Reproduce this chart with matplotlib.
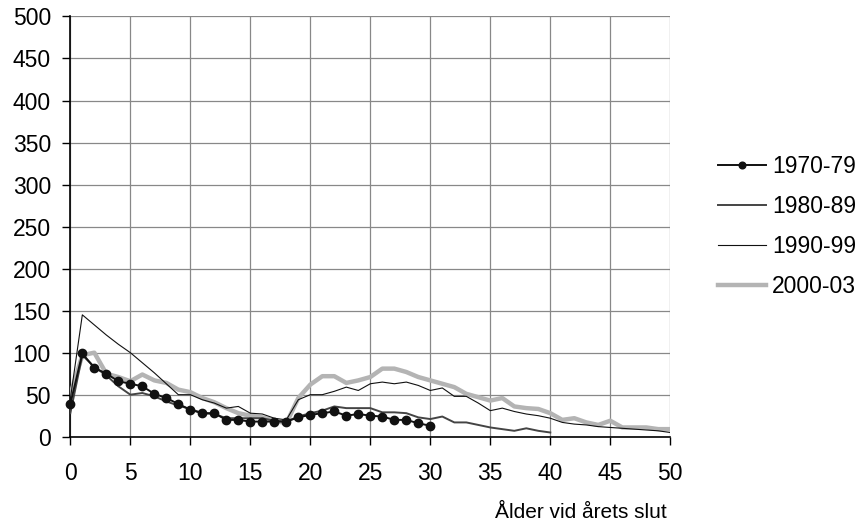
import numpy as np
import matplotlib
matplotlib.use('Agg')
import matplotlib.pyplot as plt

plt.rcParams['font.family'] = ['Liberation Sans', 'DejaVu Sans']

# values
s1970 = [39, 99, 82, 75, 66, 63, 60, 51, 46, 39, 32, 28, 28, 20, 20, 18, 18, 18, 18, 23,
         26, 28, 30, 25, 27, 25, 24, 20, 20, 16, 13]
s1980 = [28, 97, 83, 73, 60, 50, 52, 48, 42, 37, 33, 28, 27, 22, 22, 22, 22, 19, 18, 24,
         28, 31, 36, 34, 34, 34, 29, 29, 28, 23, 21, 24, 17, 17, 14, 11, 9, 7, 10, 7, 5]
s1990 = [45, 145, 133, 121, 110, 100, 88, 76, 63, 50, 50, 44, 40, 34, 36, 28, 27, 22, 20, 44,
         50, 50, 54, 59, 55, 63, 65, 63, 65, 61, 55, 58, 48, 48, 40, 31, 34, 30, 27, 25,
         22, 17, 15, 14, 12, 11, 10, 9, 8, 7, 5]
s2000 = [50, 97, 100, 75, 71, 66, 74, 67, 64, 56, 53, 46, 41, 34, 28, 25, 23, 19, 16, 46,
         62, 72, 72, 64, 67, 71, 81, 81, 77, 71, 67, 63, 59, 51, 47, 43, 46, 36, 34, 33,
         28, 20, 22, 17, 14, 19, 11, 11, 11, 9, 9]
labels = ['1970-79', '1980-89', '1990-99', '2000-03']
xlabel = 'Ålder vid årets slut'

fig = plt.figure(figsize=(8.64, 5.23), dpi=100)
ax = fig.add_axes([0.0814, 0.165, 0.7758 - 0.0814, 0.9685 - 0.165])

l4, = ax.plot(np.arange(len(s2000)), s2000, color='#b4b4b4', lw=3.2, zorder=3)
l3, = ax.plot(np.arange(len(s1990)), s1990, color='#111111', lw=0.8, zorder=4)
l2, = ax.plot(np.arange(len(s1980)), s1980, color='#444444', lw=1.4, zorder=5)
l1, = ax.plot(np.arange(len(s1970)), s1970, color='#111111', lw=1.4, marker='o',
              markersize=6, zorder=6, clip_on=False)

ax.set_xlim(0, 50)
ax.set_ylim(0, 500)
ax.set_xticks(np.arange(0, 51, 5))
ax.set_yticks(np.arange(0, 501, 50))
ax.grid(True, color='#888888', lw=0.9)
ax.set_axisbelow(True)
for s in ['top', 'right']:
    ax.spines[s].set_visible(False)
for s in ['left', 'bottom']:
    ax.spines[s].set_linewidth(1.2)
ax.tick_params(axis='both', direction='out', length=6, width=1, labelsize=16.5)
ax.tick_params(axis='x', pad=12)
ax.tick_params(axis='y', pad=8)

fig.legend([l1, l2, l3, l4], labels, loc='center left', bbox_to_anchor=(0.831, 0.567),
           frameon=False, fontsize=16.5, handlelength=2.1, handletextpad=0.26,
           labelspacing=0.73, borderpad=0, borderaxespad=0, markerscale=0.8)

fig.text(0.7716, 0.009, xlabel, ha='right', va='baseline', fontsize=15)

fig.savefig('out.png', dpi=100)
